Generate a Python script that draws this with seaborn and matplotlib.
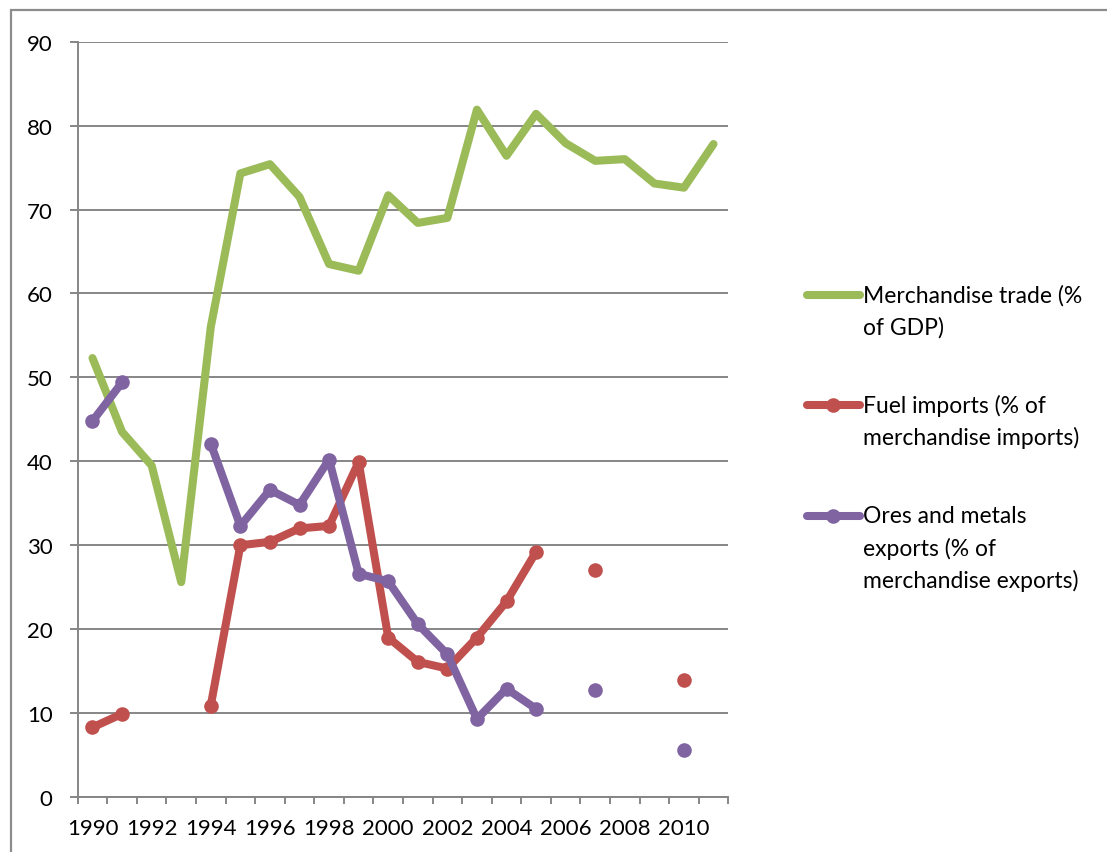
import numpy as np
import pandas as pd
import seaborn as sns
import matplotlib.pyplot as plt
from matplotlib.lines import Line2D
from matplotlib.patches import Rectangle

# data (NaN = no value for that year)
years = list(range(1990, 2012))
merch_trade = [52.3, 43.5, 39.5, 25.6, 56.0, 74.3, 75.4, 71.5, 63.5, 62.7, 71.7,
               68.4, 69.0, 81.9, 76.4, 81.4, 77.9, 75.8, 76.0, 73.1, 72.6, 77.8]
fuel_imports = [8.3, 9.9, np.nan, np.nan, 10.9, 30.0, 30.4, 32.0, 32.3, 39.9, 19.0,
                16.1, 15.3, 19.0, 23.3, 29.2, np.nan, 27.0, np.nan, np.nan, 13.9, np.nan]
ores_exports = [44.8, 49.4, np.nan, np.nan, 42.1, 32.3, 36.6, 34.8, 40.2, 26.6, 25.7,
                20.6, 17.0, 9.3, 12.9, 10.5, np.nan, 12.8, np.nan, np.nan, 5.6, np.nan]

labels = ['Merchandise trade (%\nof GDP)',
          'Fuel imports (% of\nmerchandise imports)',
          'Ores and metals\nexports (% of\nmerchandise exports)']
colors = ['#9bbb59', '#c0504d', '#8064a2']
has_marker = [False, True, True]

sns.set_style('white')
plt.rcParams['font.family'] = ['Lato', 'DejaVu Sans']

fig = plt.figure(figsize=(11.07, 8.53), dpi=100)
ax = fig.add_axes([0.0702, 0.0645, 0.5877, 0.8855])

gray = '#868686'
for vals, col, mk in zip([merch_trade, fuel_imports, ores_exports], colors, has_marker):
    df = pd.DataFrame({'year': years, 'value': vals})
    # break the line wherever a year is missing
    df['seg'] = df['value'].isna().cumsum()
    df = df.dropna()
    kw = dict(marker='o', markersize=10.5, markeredgewidth=0) if mk else {}
    sns.lineplot(data=df, x='year', y='value', units='seg', estimator=None,
                 color=col, lw=5.8, solid_joinstyle='round', solid_capstyle='round',
                 ax=ax, legend=False, **kw)

ax.set_xlim(1989.5, 2011.5)
ax.set_ylim(0, 90)
ax.set_yticks(range(0, 91, 10))
ax.set_xticks(range(1990, 2011, 2))
ax.set_xticks(np.arange(1989.5, 2012, 1), minor=True)
ax.set_xlabel('')
ax.set_ylabel('')
ax.yaxis.grid(True, color=gray, lw=1.4)
ax.set_axisbelow(True)
for s in ['top', 'right']:
    ax.spines[s].set_visible(False)
for s in ['left', 'bottom']:
    ax.spines[s].set_color(gray)
    ax.spines[s].set_linewidth(1.4)
ax.tick_params(axis='x', which='major', length=0, pad=15, labelsize=16, labelcolor='black')
ax.tick_params(axis='x', which='minor', length=5, width=1.4, color=gray, direction='out', bottom=True)
ax.tick_params(axis='y', length=6, width=1.4, color=gray, direction='out', left=True,
               pad=12, labelsize=16, labelcolor='black')

# outer chart border (top and left edges visible)
fig.add_artist(Rectangle((11 / 1107, -0.1), 2, 1.1 - 11 / 853, transform=fig.transFigure,
                         fill=False, edgecolor='#8c8c8c', lw=1.6))

# legend on the right, handle level with the first text line
leg_y = [1 - 296 / 853, 1 - 405.7 / 853, 1 - 516.7 / 853]
for lab, col, mk, y in zip(labels, colors, has_marker, leg_y):
    fig.add_artist(Line2D([0.7287, 0.7769], [y, y], transform=fig.transFigure,
                          color=col, lw=5.8, solid_capstyle='round'))
    if mk:
        fig.add_artist(Line2D([0.7528], [y], transform=fig.transFigure, color=col,
                              marker='o', markersize=10.5, markeredgewidth=0))
    for i, line in enumerate(lab.split('\n')):
        fig.text(0.7796, y - i * 32 / 853, line, fontsize=16.5, va='center', ha='left',
                 color='black')

fig.savefig('out.png', dpi=100)
